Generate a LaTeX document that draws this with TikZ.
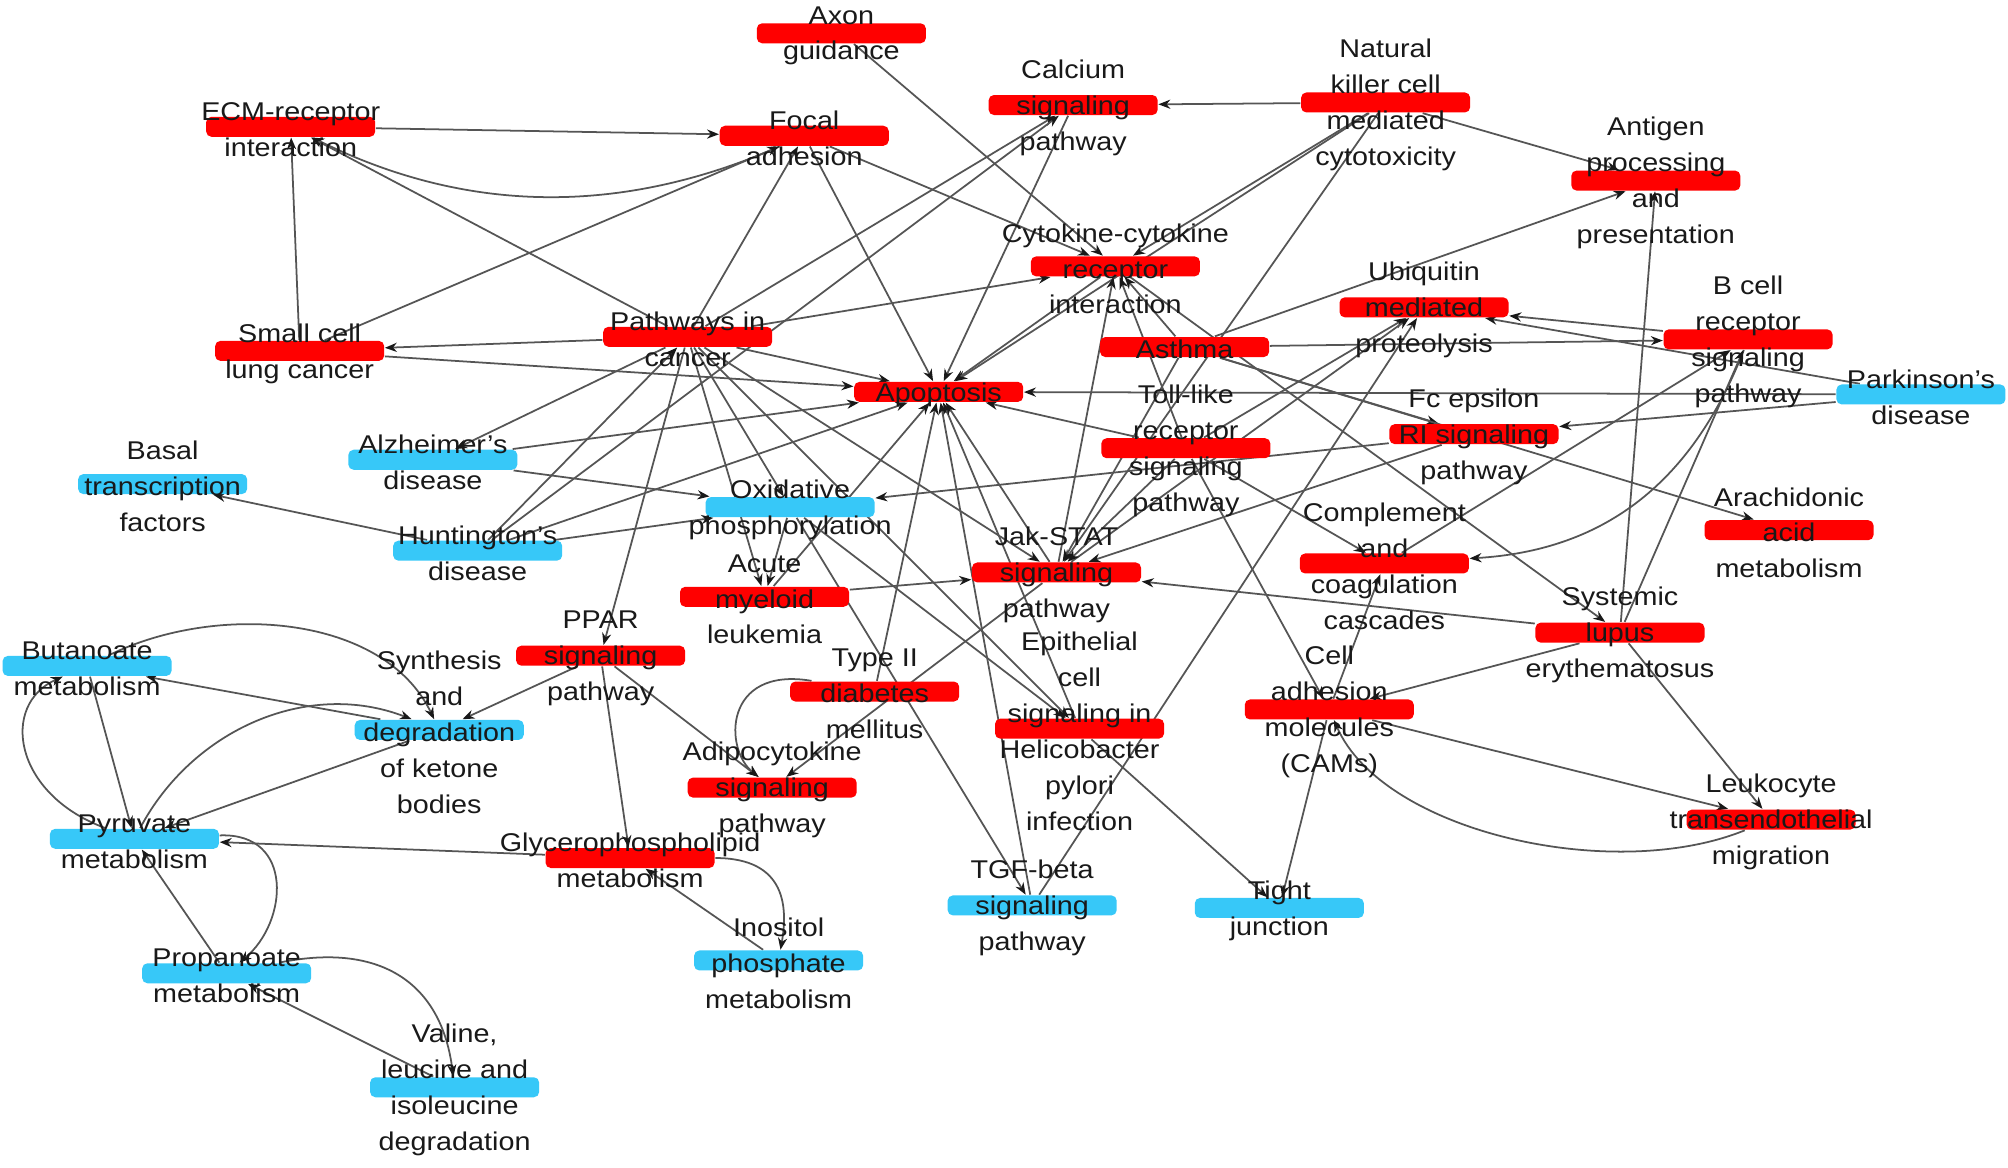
\documentclass[tikz,border=0pt]{standalone}
\usepackage{fontspec}
\setmainfont{Liberation Sans}[FakeStretch=1.12]
\usetikzlibrary{arrows.meta}
\definecolor{barred}{RGB}{255,0,0}
\definecolor{barblue}{RGB}{55,200,248}
\definecolor{edgegray}{RGB}{85,85,85}
\pgfdeclarelayer{bg}
\pgfdeclarelayer{fg}
\pgfsetlayers{bg,main,fg}
\newcommand{\mkbar}[5]{\node[#4] (#1) at (#2,#3) {};\begin{pgfonlayer}{fg}\node[lbl] at (#2,{#3+2}) {#5};\end{pgfonlayer}}
\begin{document}
\begin{tikzpicture}[x=0.012806cm, y=-0.012806cm,
  bar/.style={rectangle, rounded corners=1.5pt, minimum width=1.69cm, minimum height=0.2cm, inner sep=0pt, draw=none},
  redbar/.style={bar, fill=barred},
  bluebar/.style={bar, fill=barblue},
  lbl/.style={align=center, font=\fontsize{7.3}{10.2}\selectfont, text=black!90, inner sep=0pt},
  edge/.style={draw=edgegray, line width=0.5pt, -{Stealth[length=3.4pt,width=2.6pt,color=black!90]}}]
\begin{pgfonlayer}{bg}
\fill[white] (0,0) rectangle (1568,912);
\end{pgfonlayer}
\useasboundingbox (0,0) rectangle (1568,912);
% nodes
\mkbar{AX}{657}{26}{redbar}{Axon\\guidance}
\mkbar{CA}{838}{82}{redbar}{Calcium\\signaling\\pathway}
\mkbar{NK}{1082}{80}{redbar}{Natural\\killer cell\\mediated\\cytotoxicity}
\mkbar{ECM}{227}{99}{redbar}{ECM-receptor\\interaction}
\mkbar{FA}{628}{106}{redbar}{Focal\\adhesion}
\mkbar{AG}{1293}{141}{redbar}{Antigen\\processing\\and\\presentation}
\mkbar{CY}{871}{208}{redbar}{Cytokine-cytokine\\receptor\\interaction}
\mkbar{UB}{1112}{240}{redbar}{Ubiquitin\\mediated\\proteolysis}
\mkbar{BC}{1365}{265}{redbar}{B cell\\receptor\\signaling\\pathway}
\mkbar{SC}{234}{274}{redbar}{Small cell\\lung cancer}
\mkbar{PC}{537}{263}{redbar}{Pathways in\\cancer}
\mkbar{AS}{925}{271}{redbar}{Asthma}
\mkbar{AP}{733}{306}{redbar}{Apoptosis}
\mkbar{PK}{1500}{308}{bluebar}{Parkinson's\\disease}
\mkbar{TL}{926}{350}{redbar}{Toll-like\\receptor\\signaling\\pathway}
\mkbar{FC}{1151}{339}{redbar}{Fc epsilon\\RI signaling\\pathway}
\mkbar{AL}{338}{359}{bluebar}{Alzheimer's\\disease}
\mkbar{BT}{127}{378}{bluebar}{Basal\\transcription\\factors}
\mkbar{OX}{617}{396}{bluebar}{Oxidative\\phosphorylation}
\mkbar{AR}{1397}{414}{redbar}{Arachidonic\\acid\\metabolism}
\mkbar{HU}{373}{430}{bluebar}{Huntington's\\disease}
\mkbar{JK}{825}{447}{redbar}{Jak-STAT\\signaling\\pathway}
\mkbar{CO}{1081}{440}{redbar}{Complement\\and\\coagulation\\cascades}
\mkbar{AM}{597}{466}{redbar}{Acute\\myeloid\\leukemia}
\mkbar{SL}{1265}{494}{redbar}{Systemic\\lupus\\erythematosus}
\mkbar{BU}{68}{520}{bluebar}{Butanoate\\metabolism}
\mkbar{PP}{469}{512}{redbar}{PPAR\\signaling\\pathway}
\mkbar{SY}{343}{570}{bluebar}{Synthesis\\and\\degradation\\of ketone\\bodies}
\mkbar{T2}{683}{540}{redbar}{Type II\\diabetes\\mellitus}
\mkbar{EP}{843}{569}{redbar}{Epithelial\\cell\\signaling in\\Helicobacter\\pylori\\infection}
\mkbar{CAM}{1038}{554}{redbar}{Cell\\adhesion\\molecules\\(CAMs)}
\mkbar{AD}{603}{615}{redbar}{Adipocytokine\\signaling\\pathway}
\mkbar{LE}{1383}{640}{redbar}{Leukocyte\\transendothelial\\migration}
\mkbar{PY}{105}{655}{bluebar}{Pyruvate\\metabolism}
\mkbar{GL}{492}{670}{redbar}{Glycerophospholipid\\metabolism}
\mkbar{TG}{806}{707}{bluebar}{TGF-beta\\signaling\\pathway}
\mkbar{TJ}{999}{709}{bluebar}{Tight\\junction}
\mkbar{IN}{608}{750}{bluebar}{Inositol\\phosphate\\metabolism}
\mkbar{PR}{177}{760}{bluebar}{Propanoate\\metabolism}
\mkbar{VA}{355}{849}{bluebar}{Valine,\\leucine and\\isoleucine\\degradation}
% edges
\begin{pgfonlayer}{bg}
\draw[edge] (ECM) -- (FA);
\draw[edge] (FA) .. controls (470,175) and (350,160) .. (ECM);
\draw[edge] (PC) -- (ECM);
\draw[edge] (SC) -- (ECM);
\draw[edge] (SC) -- (FA);
\draw[edge] (PC) -- (SC);
\draw[edge] (SC) -- (AP);
\draw[edge] (PC) -- (AP);
\draw[edge] (FA) -- (AP);
\draw[edge] (FA) -- (CY);
\draw[edge] (AX) -- (CY);
\draw[edge] (PC) -- (FA);
\draw[edge] (PC) -- (CA);
\draw[edge] (HU) -- (CA);
\draw[edge] (NK) -- (CA);
\draw[edge] (CA) -- (AP);
\draw[edge] (PC) -- (CY);
\draw[edge] (NK) -- (CY);
\draw[edge] (NK) -- (AP);
\draw[edge] (NK) -- (JK);
\draw[edge] (NK) -- (AG);
\draw[edge] (AS) -- (AG);
\draw[edge] (SL) -- (AG);
\draw[edge] (CY) -- (AP);
\draw[edge] (JK) -- (CY);
\draw[edge] (TL) -- (CY);
\draw[edge] (AS) -- (CY);
\draw[edge] (CY) -- (SL);
\draw[edge] (AS) -- (BC);
\draw[edge] (AS) -- (FC);
\draw[edge] (AS) -- (AR);
\draw[edge] (PK) -- (AP);
\draw[edge] (PK) -- (UB);
\draw[edge] (BC) -- (UB);
\draw[edge] (PK) -- (FC);
\draw[edge] (TL) -- (AP);
\draw[edge] (TL) -- (UB);
\draw[edge] (JK) -- (UB);
\draw[edge] (TG) -- (UB);
\draw[edge] (FC) -- (OX);
\draw[edge] (TL) -- (CO);
\draw[edge] (BC) .. controls (1320,380) and (1250,430) .. (CO);
\draw[edge] (CO) -- (BC);
\draw[edge] (CAM) -- (CO);
\draw[edge] (SL) -- (JK);
\draw[edge] (SL) -- (CAM);
\draw[edge] (SL) -- (LE);
\draw[edge] (CAM) -- (LE);
\draw[edge] (LE) .. controls (1260,690) and (1080,650) .. (CAM);
\draw[edge] (CAM) -- (TJ);
\draw[edge] (EP) -- (TJ);
\draw[edge] (OX) -- (EP);
\draw[edge] (TG) -- (AP);
\draw[edge] (OX) -- (TG);
\draw[edge] (EP) -- (AP);
\draw[edge] (JK) -- (AP);
\draw[edge] (AM) -- (AP);
\draw[edge] (T2) -- (AP);
\draw[edge] (OX) -- (AM);
\draw[edge] (AM) -- (JK);
\draw[edge] (T2) .. controls (565,520) and (565,585) .. (AD);
\draw[edge] (JK) -- (AD);
\draw[edge] (PP) -- (AD);
\draw[edge] (PP) -- (SY);
\draw[edge] (PP) -- (GL);
\draw[edge] (PC) -- (PP);
\draw[edge] (GL) -- (PY);
\draw[edge] (GL) .. controls (615,670) and (615,710) .. (IN);
\draw[edge] (IN) -- (GL);
\draw[edge] (PY) .. controls (230,650) and (225,720) .. (PR);
\draw[edge] (PR) -- (PY);
\draw[edge] (PR) .. controls (300,735) and (345,770) .. (VA);
\draw[edge] (VA) -- (PR);
\draw[edge] (BU) .. controls (170,470) and (300,480) .. (SY);
\draw[edge] (SY) -- (BU);
\draw[edge] (PY) .. controls (150,570) and (240,530) .. (SY);
\draw[edge] (SY) -- (PY);
\draw[edge] (PY) .. controls (10,620) and (0,550) .. (BU);
\draw[edge] (BU) -- (PY);
\draw[edge] (HU) -- (BT);
\draw[edge] (HU) -- (OX);
\draw[edge] (AL) -- (OX);
\draw[edge] (AL) -- (AP);
\draw[edge] (HU) -- (AP);
\draw[edge] (PC) -- (AL);
\draw[edge] (HU) -- (PC);
\draw[edge] (PC) -- (OX);
\draw[edge] (PC) -- (AM);
\draw[edge] (PC) -- (JK);
\draw[edge] (PC) -- (EP);
\draw[edge] (TL) -- (JK);
\draw[edge] (AS) -- (JK);
\draw[edge] (SL) -- (BC);
\draw[edge] (TL) -- (CAM);
\draw[edge] (FC) -- (JK);
\end{pgfonlayer}
\end{tikzpicture}
\end{document}
